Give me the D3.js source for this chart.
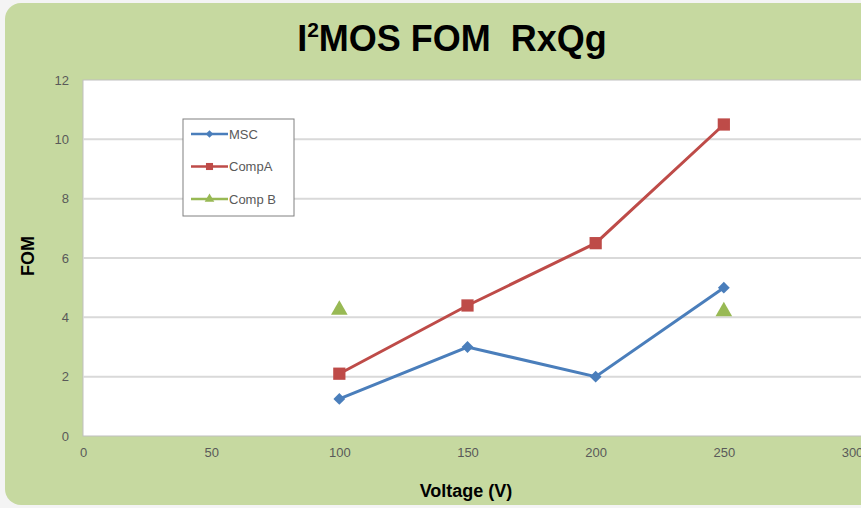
<!DOCTYPE html>
<html>
<head>
<meta charset="utf-8">
<script src="https://d3js.org/d3.v7.min.js"></script>
<style>
  body { margin: 0; background: #f4f4f4; }
  svg { display: block; }
</style>
</head>
<body>
<div id="chart"></div>
<script>
// data
var voltage = [100, 150, 200, 250]
var msc = [1.25, 3.0, 2.0, 5.0]
var compA = [2.1, 4.4, 6.5, 10.5]
var compBVoltage = [100, 250]
var compB = [4.25, 4.2]
var xTicks = [0, 50, 100, 150, 200, 250, 300]
var yTicks = [0, 2, 4, 6, 8, 10, 12]

var W = 861, H = 508
var plot = {left: 83, top: 80, right: 852, bottom: 436}
var font = "'Liberation Sans Narrow', 'Liberation Sans', sans-serif"

var svg = d3.select("#chart").append("svg")
  .attr("width", W).attr("height", H)

// green panel
svg.append("rect")
  .attr("x", 5).attr("y", 3)
  .attr("width", 900).attr("height", 502)
  .attr("rx", 16)
  .attr("fill", "#c6d9a0")

var x = d3.scaleLinear().domain([0, 300]).range([plot.left, plot.right])
var y = d3.scaleLinear().domain([0, 12]).range([plot.bottom, plot.top])

// plot area
svg.append("rect")
  .attr("x", plot.left).attr("y", plot.top)
  .attr("width", plot.right - plot.left + 10).attr("height", plot.bottom - plot.top)
  .attr("fill", "#fff")
  .attr("stroke", "#bfbfbf").attr("stroke-width", 1)

// gridlines
svg.append("g").selectAll("line")
  .data(yTicks.filter(function(d) { return d > 0 && d < 12 }))
  .join("line")
  .attr("x1", plot.left).attr("x2", plot.right + 10)
  .attr("y1", function(d) { return y(d) }).attr("y2", function(d) { return y(d) })
  .attr("stroke", "#d9d9d9").attr("stroke-width", 2)

// axes
var xAxis = svg.append("g")
  .attr("transform", "translate(0," + plot.bottom + ")")
  .call(d3.axisBottom(x).tickValues(xTicks).tickSize(0).tickPadding(12))
var yAxis = svg.append("g")
  .attr("transform", "translate(" + plot.left + ",0)")
  .call(d3.axisLeft(y).tickValues(yTicks).tickSize(0).tickPadding(14))
;[xAxis, yAxis].forEach(function(a) {
  a.select(".domain").remove()
  a.selectAll("text")
    .attr("font-family", font)
    .attr("font-size", 13).attr("fill", "#595959")
})

// lines
var line = d3.line()
  .x(function(d) { return x(d[0]) })
  .y(function(d) { return y(d[1]) })

var mscPts = d3.zip(voltage, msc)
var compAPts = d3.zip(voltage, compA)
var compBPts = d3.zip(compBVoltage, compB)

svg.append("path").datum(mscPts).attr("d", line)
  .attr("fill", "none").attr("stroke", "#4a7ebb").attr("stroke-width", 3)
svg.append("path").datum(compAPts).attr("d", line)
  .attr("fill", "none").attr("stroke", "#be4b48").attr("stroke-width", 3)

var diamond = d3.symbol().type(d3.symbolSquare).size(70)
var square = d3.symbol().type(d3.symbolSquare).size(150)
var triangle = d3.symbol().type(d3.symbolTriangle).size(120)

svg.append("g").selectAll("path").data(mscPts).join("path")
  .attr("d", diamond)
  .attr("transform", function(d) { return "translate(" + x(d[0]) + "," + y(d[1]) + ") rotate(45)" })
  .attr("fill", "#4a7ebb")
svg.append("g").selectAll("path").data(compAPts).join("path")
  .attr("d", square)
  .attr("transform", function(d) { return "translate(" + x(d[0]) + "," + y(d[1]) + ")" })
  .attr("fill", "#be4b48")
svg.append("g").selectAll("path").data(compBPts).join("path")
  .attr("d", triangle)
  .attr("transform", function(d) { return "translate(" + x(d[0]) + "," + y(d[1]) + ")" })
  .attr("fill", "#98b954")

// title
var title = svg.append("text")
  .attr("x", 452).attr("y", 51)
  .attr("text-anchor", "middle")
  .attr("font-family", font)
  .attr("font-weight", "bold").attr("font-size", 36).attr("fill", "#000")
title.append("tspan").text("I")
title.append("tspan").text("2").attr("font-size", 21).attr("dy", -14)
title.append("tspan").text("MOS FOM\u00a0\u00a0RxQg").attr("dy", 14)

// axis titles
svg.append("text")
  .attr("x", 466).attr("y", 497)
  .attr("text-anchor", "middle")
  .attr("font-family", font)
  .attr("font-weight", "bold").attr("font-size", 18)
  .text("Voltage (V)")
svg.append("text")
  .attr("transform", "translate(34,256) rotate(-90)")
  .attr("text-anchor", "middle")
  .attr("font-family", font)
  .attr("font-weight", "bold").attr("font-size", 18)
  .text("FOM")

// legend
var legendItems = [
  {name: "MSC", color: "#4a7ebb", sym: d3.symbol().type(d3.symbolSquare).size(28), rot: 45},
  {name: "CompA", color: "#be4b48", sym: d3.symbol().type(d3.symbolSquare).size(50), rot: 0},
  {name: "Comp B", color: "#98b954", sym: d3.symbol().type(d3.symbolTriangle).size(40), rot: 0}
]
var lg = svg.append("g")
lg.append("rect")
  .attr("x", 183).attr("y", 119).attr("width", 111).attr("height", 97)
  .attr("fill", "#fff").attr("stroke", "#808080").attr("stroke-width", 1)
var li = lg.selectAll("g.item").data(legendItems).join("g")
  .attr("transform", function(d, i) { return "translate(0," + (134 + i * 32.5) + ")" })
li.append("line")
  .attr("x1", 191).attr("x2", 228)
  .attr("stroke", function(d) { return d.color }).attr("stroke-width", 2.5)
li.append("path")
  .attr("d", function(d) { return d.sym() })
  .attr("transform", function(d) { return "translate(209.5,0) rotate(" + d.rot + ")" })
  .attr("fill", function(d) { return d.color })
li.append("text")
  .attr("x", 229).attr("y", 4.5)
  .attr("font-family", font)
  .attr("font-size", 13).attr("fill", "#595959")
  .text(function(d) { return d.name })
</script>
</body>
</html>
